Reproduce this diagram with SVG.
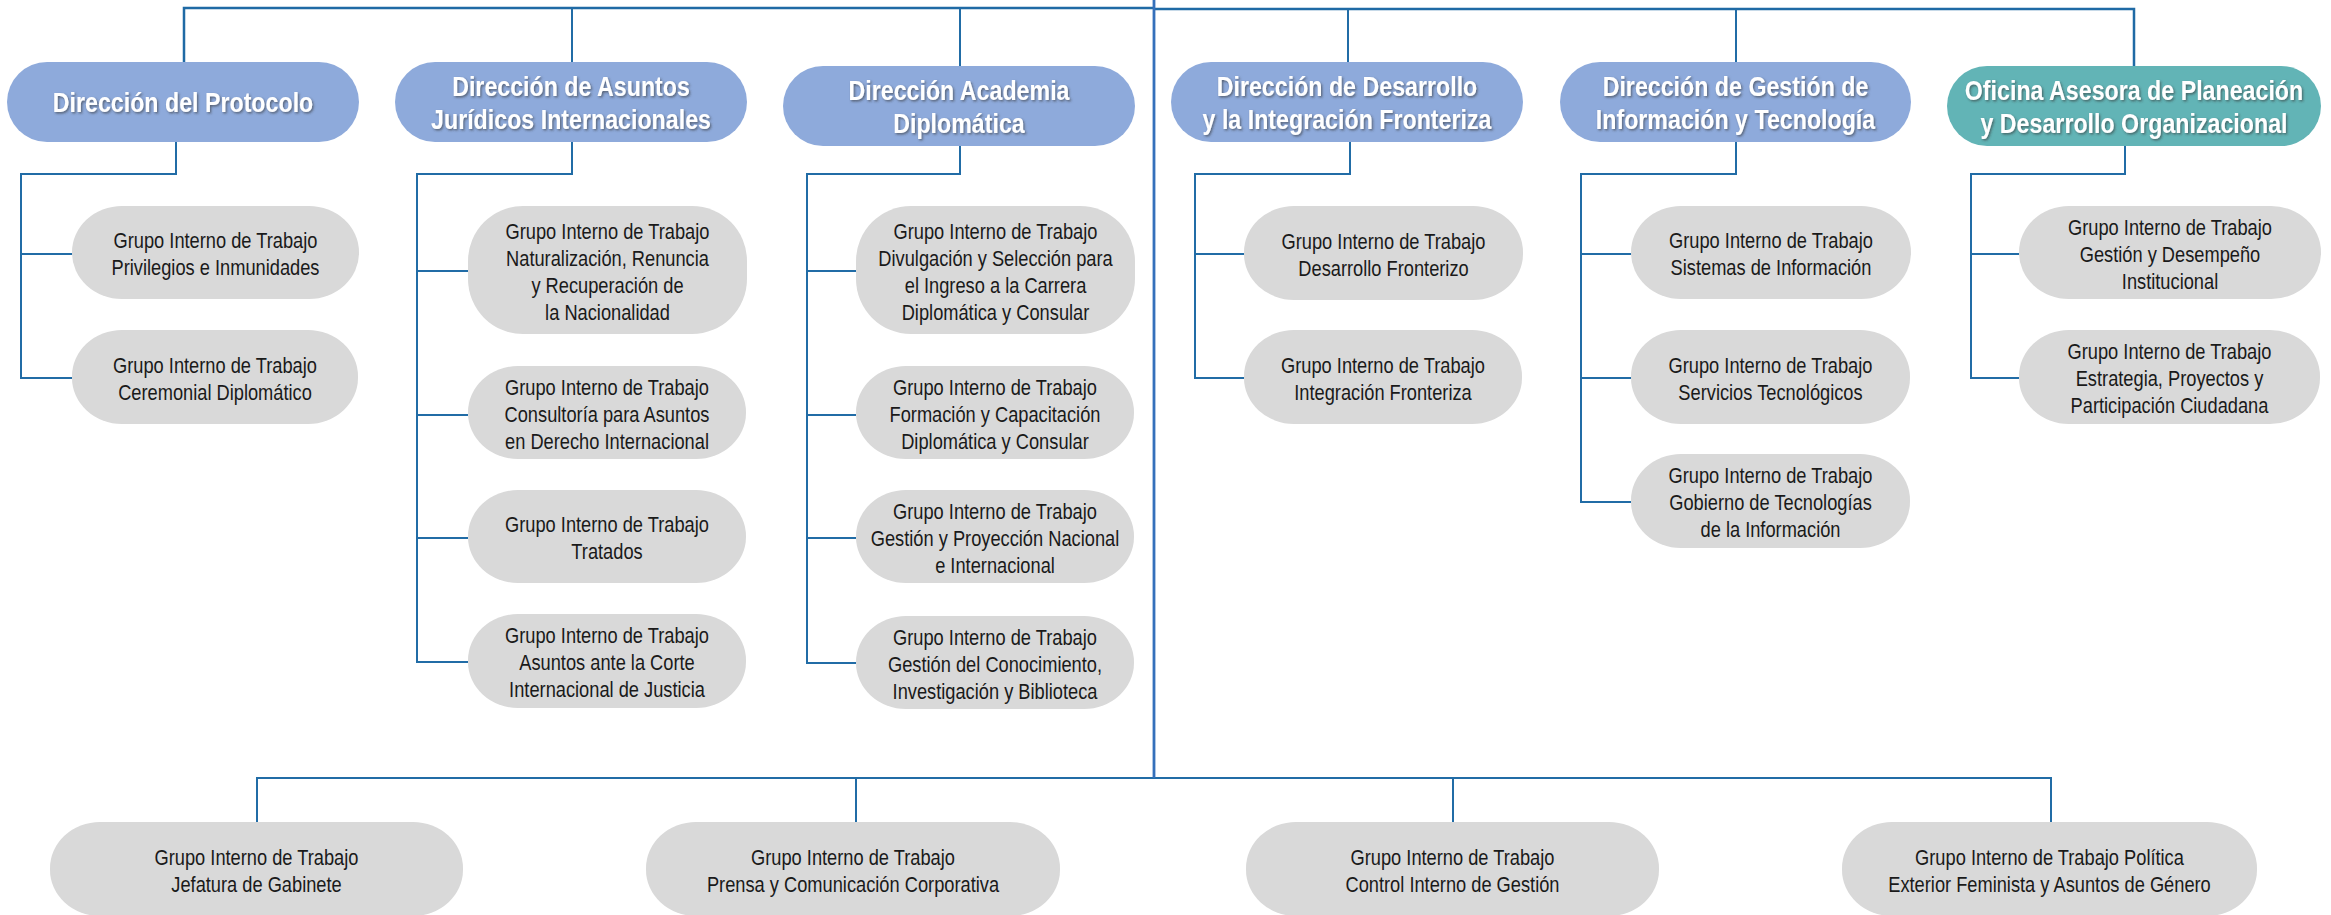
<svg xmlns="http://www.w3.org/2000/svg" width="2331" height="915" viewBox="0 0 2331 915">
<defs>
<style>
.dir{fill:#8eaadb}
.ofi{fill:#62b4b6}
.grp{fill:#d9d9d9}
.dt{font-family:"Liberation Sans",Arial,sans-serif;font-weight:bold;font-size:27px;fill:#ffffff;text-anchor:middle;filter:url(#sh)}
.gt{font-family:"Liberation Sans",Arial,sans-serif;font-size:22px;fill:#1a1a1a;text-anchor:middle}
.ln{stroke:#216ca6;stroke-width:2;fill:none}
.top{stroke:#1f6aa5;stroke-width:2.5;fill:none}
.main{stroke:#3570bb;stroke-width:2.8;fill:none}
</style>
<filter id="sh" x="-10%" y="-30%" width="120%" height="160%">
<feDropShadow dx="1.5" dy="1.5" stdDeviation="1" flood-color="#333333" flood-opacity="0.6"/>
</filter>
</defs>
<rect x="0" y="0" width="2331" height="915" fill="#ffffff"/>
<g id="connectors">
<path class="top" d="M184 62 V8 H1154"/>
<path class="ln" d="M572 62 V8"/>
<path class="ln" d="M960 66 V8"/>
<path class="top" d="M1154 9 H2134 V66"/>
<path class="ln" d="M1348 62 V9"/>
<path class="ln" d="M1736 62 V9"/>
<path class="ln" d="M176 142 V174 H21 V378 H72 M21 254 H72"/>
<path class="ln" d="M572 142 V174 H417 V662 H468 M417 271 H468 M417 415 H468 M417 538 H468"/>
<path class="ln" d="M960 146 V174 H807 V663 H856 M807 271 H856 M807 415 H856 M807 538 H856"/>
<path class="ln" d="M1350 142 V174 H1195 V378 H1244 M1195 254 H1244"/>
<path class="ln" d="M1736 142 V174 H1581 V502 H1631 M1581 254 H1631 M1581 378 H1631"/>
<path class="ln" d="M2125 146 V174 H1971 V378 H2019 M1971 254 H2019"/>
<path class="ln" d="M257 822 V778 H2051 V822 M856 778 V822 M1453 778 V822"/>
<path class="main" d="M1154 0 V778"/>
</g>
<g id="n-protocolo"><rect class="dir" x="7" y="62" width="352" height="80" rx="40" ry="40"/><g transform="translate(183 0) scale(0.86 1)"><text class="dt" x="0" y="112">Dirección del Protocolo</text></g></g>
<g id="n-asuntos"><rect class="dir" x="395" y="62" width="352" height="80" rx="40" ry="40"/><g transform="translate(571 0) scale(0.86 1)"><text class="dt" x="0" y="96.5">Dirección de Asuntos</text><text class="dt" x="0" y="129.5">Jurídicos Internacionales</text></g></g>
<g id="n-academia"><rect class="dir" x="783" y="66" width="352" height="80" rx="40" ry="40"/><g transform="translate(959 0) scale(0.86 1)"><text class="dt" x="0" y="100.5">Dirección Academia</text><text class="dt" x="0" y="133.5">Diplomática</text></g></g>
<g id="n-desarrollo"><rect class="dir" x="1171" y="62" width="352" height="80" rx="40" ry="40"/><g transform="translate(1347 0) scale(0.86 1)"><text class="dt" x="0" y="96.5">Dirección de Desarrollo</text><text class="dt" x="0" y="129.5">y la Integración Fronteriza</text></g></g>
<g id="n-gestion"><rect class="dir" x="1560" y="62" width="351" height="80" rx="40" ry="40"/><g transform="translate(1735.5 0) scale(0.86 1)"><text class="dt" x="0" y="96.5">Dirección de Gestión de</text><text class="dt" x="0" y="129.5">Información y Tecnología</text></g></g>
<g id="n-oficina"><rect class="ofi" x="1947" y="66" width="374" height="80" rx="40" ry="40"/><g transform="translate(2134 0) scale(0.86 1)"><text class="dt" x="0" y="100.5">Oficina Asesora de Planeación</text><text class="dt" x="0" y="133.5">y Desarrollo Organizacional</text></g></g>

<g id="g-privilegios"><rect class="grp" x="72" y="206" width="287" height="93" rx="50" ry="46"/><g transform="translate(215.5 0) scale(0.83 1)"><text class="gt" x="0" y="248.5">Grupo Interno de Trabajo</text><text class="gt" x="0" y="275.5">Privilegios e Inmunidades</text></g></g>
<g id="g-ceremonial"><rect class="grp" x="72" y="330" width="286" height="94" rx="50" ry="46"/><g transform="translate(215 0) scale(0.83 1)"><text class="gt" x="0" y="373">Grupo Interno de Trabajo</text><text class="gt" x="0" y="400">Ceremonial Diplomático</text></g></g>

<g id="g-naturalizacion"><rect class="grp" x="468" y="206" width="279" height="128" rx="55" ry="55"/><g transform="translate(607.5 0) scale(0.83 1)"><text class="gt" x="0" y="239">Grupo Interno de Trabajo</text><text class="gt" x="0" y="266">Naturalización, Renuncia</text><text class="gt" x="0" y="293">y Recuperación de</text><text class="gt" x="0" y="320">la Nacionalidad</text></g></g>
<g id="g-consultoria"><rect class="grp" x="468" y="366" width="278" height="93" rx="50" ry="46"/><g transform="translate(607 0) scale(0.83 1)"><text class="gt" x="0" y="395">Grupo Interno de Trabajo</text><text class="gt" x="0" y="422">Consultoría para Asuntos</text><text class="gt" x="0" y="449">en Derecho Internacional</text></g></g>
<g id="g-tratados"><rect class="grp" x="468" y="490" width="278" height="93" rx="50" ry="46"/><g transform="translate(607 0) scale(0.83 1)"><text class="gt" x="0" y="532.5">Grupo Interno de Trabajo</text><text class="gt" x="0" y="559.5">Tratados</text></g></g>
<g id="g-corte"><rect class="grp" x="468" y="614" width="278" height="94" rx="50" ry="46"/><g transform="translate(607 0) scale(0.83 1)"><text class="gt" x="0" y="643.5">Grupo Interno de Trabajo</text><text class="gt" x="0" y="670.5">Asuntos ante la Corte</text><text class="gt" x="0" y="697.5">Internacional de Justicia</text></g></g>

<g id="g-divulgacion"><rect class="grp" x="856" y="206" width="279" height="128" rx="55" ry="55"/><g transform="translate(995.5 0) scale(0.83 1)"><text class="gt" x="0" y="239">Grupo Interno de Trabajo</text><text class="gt" x="0" y="266">Divulgación y Selección para</text><text class="gt" x="0" y="293">el Ingreso a la Carrera</text><text class="gt" x="0" y="320">Diplomática y Consular</text></g></g>
<g id="g-formacion"><rect class="grp" x="856" y="366" width="278" height="93" rx="50" ry="46"/><g transform="translate(995 0) scale(0.83 1)"><text class="gt" x="0" y="395">Grupo Interno de Trabajo</text><text class="gt" x="0" y="422">Formación y Capacitación</text><text class="gt" x="0" y="449">Diplomática y Consular</text></g></g>
<g id="g-proyeccion"><rect class="grp" x="856" y="490" width="278" height="93" rx="50" ry="46"/><g transform="translate(995 0) scale(0.83 1)"><text class="gt" x="0" y="519">Grupo Interno de Trabajo</text><text class="gt" x="0" y="546">Gestión y Proyección Nacional</text><text class="gt" x="0" y="573">e Internacional</text></g></g>
<g id="g-conocimiento"><rect class="grp" x="856" y="616" width="278" height="93" rx="50" ry="46"/><g transform="translate(995 0) scale(0.83 1)"><text class="gt" x="0" y="645">Grupo Interno de Trabajo</text><text class="gt" x="0" y="672">Gestión del Conocimiento,</text><text class="gt" x="0" y="699">Investigación y Biblioteca</text></g></g>

<g id="g-fronterizo"><rect class="grp" x="1244" y="206" width="279" height="94" rx="50" ry="46"/><g transform="translate(1383.5 0) scale(0.83 1)"><text class="gt" x="0" y="249">Grupo Interno de Trabajo</text><text class="gt" x="0" y="276">Desarrollo Fronterizo</text></g></g>
<g id="g-integracion"><rect class="grp" x="1244" y="330" width="278" height="94" rx="50" ry="46"/><g transform="translate(1383 0) scale(0.83 1)"><text class="gt" x="0" y="373">Grupo Interno de Trabajo</text><text class="gt" x="0" y="400">Integración Fronteriza</text></g></g>

<g id="g-sistemas"><rect class="grp" x="1631" y="206" width="280" height="93" rx="50" ry="46"/><g transform="translate(1771 0) scale(0.83 1)"><text class="gt" x="0" y="248.5">Grupo Interno de Trabajo</text><text class="gt" x="0" y="275.5">Sistemas de Información</text></g></g>
<g id="g-servicios"><rect class="grp" x="1631" y="330" width="279" height="94" rx="50" ry="46"/><g transform="translate(1770.5 0) scale(0.83 1)"><text class="gt" x="0" y="373">Grupo Interno de Trabajo</text><text class="gt" x="0" y="400">Servicios Tecnológicos</text></g></g>
<g id="g-gobierno"><rect class="grp" x="1631" y="454" width="279" height="94" rx="50" ry="46"/><g transform="translate(1770.5 0) scale(0.83 1)"><text class="gt" x="0" y="483.5">Grupo Interno de Trabajo</text><text class="gt" x="0" y="510.5">Gobierno de Tecnologías</text><text class="gt" x="0" y="537.5">de la Información</text></g></g>

<g id="g-desempeno"><rect class="grp" x="2019" y="206" width="302" height="93" rx="50" ry="46"/><g transform="translate(2170 0) scale(0.83 1)"><text class="gt" x="0" y="235">Grupo Interno de Trabajo</text><text class="gt" x="0" y="262">Gestión y Desempeño</text><text class="gt" x="0" y="289">Institucional</text></g></g>
<g id="g-estrategia"><rect class="grp" x="2019" y="330" width="301" height="94" rx="50" ry="46"/><g transform="translate(2169.5 0) scale(0.83 1)"><text class="gt" x="0" y="359.5">Grupo Interno de Trabajo</text><text class="gt" x="0" y="386.5">Estrategia, Proyectos y</text><text class="gt" x="0" y="413.5">Participación Ciudadana</text></g></g>

<g id="g-jefatura"><rect class="grp" x="50" y="822" width="413" height="94" rx="50" ry="46"/><g transform="translate(256.5 0) scale(0.83 1)"><text class="gt" x="0" y="865">Grupo Interno de Trabajo</text><text class="gt" x="0" y="892">Jefatura de Gabinete</text></g></g>
<g id="g-prensa"><rect class="grp" x="646" y="822" width="414" height="94" rx="50" ry="46"/><g transform="translate(853 0) scale(0.83 1)"><text class="gt" x="0" y="865">Grupo Interno de Trabajo</text><text class="gt" x="0" y="892">Prensa y Comunicación Corporativa</text></g></g>
<g id="g-control"><rect class="grp" x="1246" y="822" width="413" height="94" rx="50" ry="46"/><g transform="translate(1452.5 0) scale(0.83 1)"><text class="gt" x="0" y="865">Grupo Interno de Trabajo</text><text class="gt" x="0" y="892">Control Interno de Gestión</text></g></g>
<g id="g-politica"><rect class="grp" x="1842" y="822" width="415" height="94" rx="50" ry="46"/><g transform="translate(2049.5 0) scale(0.83 1)"><text class="gt" x="0" y="865">Grupo Interno de Trabajo Política</text><text class="gt" x="0" y="892">Exterior Feminista y Asuntos de Género</text></g></g>
</svg>
